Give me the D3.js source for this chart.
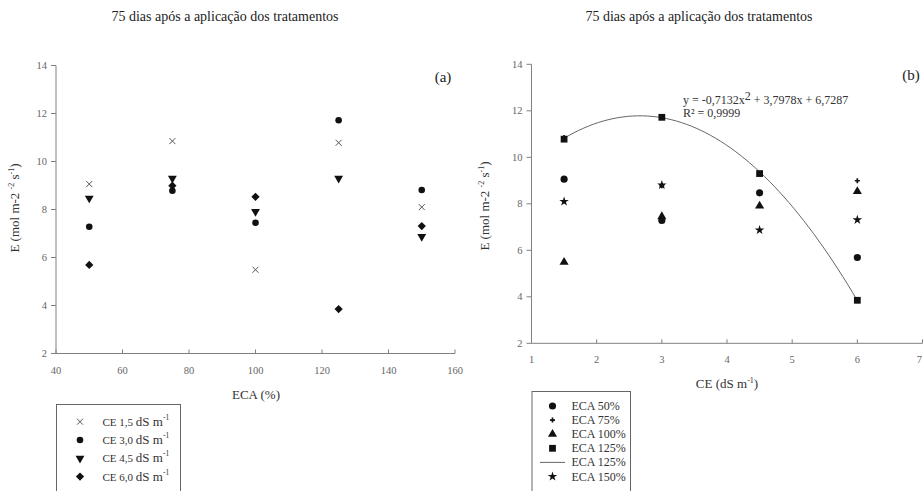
<!DOCTYPE html>
<html>
<head>
<meta charset="utf-8">
<script src="https://cdn.jsdelivr.net/npm/d3@7"></script>
<style>
  body { margin: 0; background: #fff; }
  svg { display: block; font-family: "Liberation Serif", "Times New Roman", serif; }
</style>
</head>
<body>
<svg id="chart" width="923" height="491"></svg>
<script>
// ---- Data ----
const titleText = "75 dias após a aplicação dos tratamentos";
const ecaLevels = [50, 75, 100, 125, 150];          // ECA (%)
const ceLevels = [1.5, 3.0, 4.5, 6.0];              // CE (dS m-1)
// E values per CE level (rows) across ECA levels (columns)
const ce15 = [9.06, 10.85, 5.49, 10.78, 8.10];
const ce30 = [7.28, 8.78, 7.45, 11.72, 8.81];
const ce45 = [8.47, 9.30, 7.91, 9.30, 6.87];
const ce60 = [5.69, 8.99, 8.53, 3.85, 7.31];
const ceSeriesNames = ["CE 1,5", "CE 3,0", "CE 4,5", "CE 6,0"];
const ecaSeriesNames = ["ECA 50%", "ECA 75%", "ECA 100%", "ECA 125%", "ECA 125%", "ECA 150%"];
const xTicksA = [40, 60, 80, 100, 120, 140, 160];
const xTicksB = [1, 2, 3, 4, 5, 6, 7];
const yTicks = [2, 4, 6, 8, 10, 12, 14];
// Quadratic fit for ECA 125% shown in panel (b)
const fitCoef = [-0.7132, 3.7978, 6.7287];
const fitRange = [1.5, 6.0];
const eqText = "y = -0,7132x";
const eqText2 = " + 3,7978x + 6,7287";
const r2Text = "R² = 0,9999";

const ceRows = [ce15, ce30, ce45, ce60];

// ---- Setup ----
const svg = d3.select("#chart");
const axisColor = "#808080";
const textColor = "#333";
const W = 923;

function sym(type, size) { return d3.symbol().type(type).size(size)(); }
const timesPath = "M-3,-3L3,3M-3,3L3,-3";
const symbolsA = [
  {path: timesPath, stroke: true},
  {path: sym(d3.symbolCircle, 34)},
  {path: sym(d3.symbolTriangle, 34), rot: 180},
  {path: sym(d3.symbolSquare, 34), rot: 45}
];
// symbols for ECA series (index matches ecaLevels)
const symbolsB = [
  {path: sym(d3.symbolCircle, 40)},
  {path: sym(d3.symbolCross, 14)},
  {path: sym(d3.symbolTriangle, 36)},
  {path: sym(d3.symbolSquare, 46)},
  {path: sym(d3.symbolStar, 28)}
];
// legend entries: data symbol index, or -1 for the fit line
const legendBMap = [0, 1, 2, 3, -1, 4];

function drawSym(g, s, x, y) {
  const p = g.append("path").attr("d", s.path)
    .attr("transform", `translate(${x},${y})` + (s.rot ? ` rotate(${s.rot})` : ""));
  if (s.stroke) p.attr("fill", "none").attr("stroke", "#555").attr("stroke-width", 1);
  else p.attr("fill", "#111");
  return p;
}

function drawAxes(x, y, xTicks, yLabelX, yLabelCenter) {
  const g = svg.append("g");
  const [x0, x1] = x.range();
  const [y0, y1] = y.range();
  g.append("line").attr("x1", x0).attr("x2", x1).attr("y1", y0).attr("y2", y0)
    .attr("stroke", axisColor);
  g.append("line").attr("x1", x0).attr("x2", x0).attr("y1", y0).attr("y2", y1)
    .attr("stroke", axisColor);
  yTicks.forEach(t => {
    g.append("line").attr("x1", x0 - 5).attr("x2", x0).attr("y1", y(t)).attr("y2", y(t))
      .attr("stroke", axisColor);
    g.append("text").attr("x", x0 - 9).attr("y", y(t) + 3.5).attr("text-anchor", "end")
      .attr("font-size", 10.5).attr("fill", "#666").text(t);
  });
  xTicks.forEach(t => {
    g.append("line").attr("x1", x(t)).attr("x2", x(t)).attr("y1", y0).attr("y2", y0 - 4)
      .attr("stroke", axisColor);
    const edge = x(t) > W - 5;
    g.append("text").attr("x", edge ? W - 1 : x(t)).attr("y", y0 + 20)
      .attr("text-anchor", edge ? "end" : "middle")
      .attr("font-size", 10.5).attr("fill", "#666").text(t);
  });
  // y title
  const yt = g.append("text")
    .attr("transform", `translate(${yLabelX},${yLabelCenter}) rotate(-90)`)
    .attr("text-anchor", "middle").attr("font-size", 13).attr("fill", textColor);
  yt.append("tspan").text("E (mol m-2 ");
  yt.append("tspan").attr("font-size", 8).attr("dy", -5).text("-2");
  yt.append("tspan").attr("dy", 5).text(" s");
  yt.append("tspan").attr("font-size", 8).attr("dy", -5).text("-1");
  yt.append("tspan").attr("dy", 5).text(")");
  return g;
}

// ---- Panel (a) ----
const xA = d3.scaleLinear().domain([40, 160]).range([56, 455]);
const yA = d3.scaleLinear().domain([2, 14]).range([353.5, 65.5]);
drawAxes(xA, yA, xTicksA, 19, 208);
svg.append("text").attr("x", 225).attr("y", 21).attr("text-anchor", "middle")
  .attr("font-size", 14).attr("fill", "#222").text(titleText);
svg.append("text").attr("x", 443).attr("y", 82).attr("text-anchor", "middle")
  .attr("font-size", 15).attr("fill", "#222").text("(a)");
svg.append("text").attr("x", 256).attr("y", 399).attr("text-anchor", "middle")
  .attr("font-size", 13).attr("fill", textColor).text("ECA (%)");

const gA = svg.append("g");
ceRows.forEach((row, i) => {
  row.forEach((v, j) => drawSym(gA, symbolsA[i], xA(ecaLevels[j]), yA(v)));
});

// legend (a)
const legA = svg.append("g");
legA.append("rect").attr("x", 56.5).attr("y", 404.5).attr("width", 124).attr("height", 100)
  .attr("fill", "#fff").attr("stroke", "#666");
ceSeriesNames.forEach((name, i) => {
  const yy = 421.7 + i * 18.3;
  drawSym(legA, symbolsA[i], 80, yy);
  const t = legA.append("text").attr("x", 102.5).attr("y", yy + 4)
    .attr("font-size", 11).attr("fill", textColor);
  t.append("tspan").text(name + " ");
  t.append("tspan").attr("font-size", 13).text("dS m");
  t.append("tspan").attr("font-size", 7.5).attr("dy", -6).text("-1");
});

// ---- Panel (b) ----
const xB = d3.scaleLinear().domain([1, 7]).range([531.5, 922.5]);
const yB = d3.scaleLinear().domain([2, 14]).range([343.3, 64.3]);
drawAxes(xB, yB, xTicksB, 489, 206);
svg.append("text").attr("x", 699).attr("y", 21).attr("text-anchor", "middle")
  .attr("font-size", 14).attr("fill", "#222").text(titleText);
svg.append("text").attr("x", 911).attr("y", 80).attr("text-anchor", "middle")
  .attr("font-size", 15).attr("fill", "#222").text("(b)");
const xtB = svg.append("text").attr("x", 727).attr("y", 388).attr("text-anchor", "middle")
  .attr("font-size", 13).attr("fill", textColor);
xtB.append("tspan").text("CE (dS m");
xtB.append("tspan").attr("font-size", 8).attr("dy", -5).text("-1");
xtB.append("tspan").attr("dy", 5).text(")");

// fit curve
const fitPts = d3.range(0, 61).map(k => {
  const xv = fitRange[0] + (fitRange[1] - fitRange[0]) * k / 60;
  return [xv, fitCoef[0] * xv * xv + fitCoef[1] * xv + fitCoef[2]];
});
svg.append("path").datum(fitPts)
  .attr("d", d3.line().x(d => xB(d[0])).y(d => yB(d[1])))
  .attr("fill", "none").attr("stroke", "#666").attr("stroke-width", 1);

// points in (b): series by ECA level, x = CE level
const gB = svg.append("g");
const drawOrder = [1, 0, 2, 4, 3];
drawOrder.forEach(j => {
  ceRows.forEach((row, i) => drawSym(gB, symbolsB[j], xB(ceLevels[i]), yB(row[j])));
});

// equation
const eq = svg.append("text").attr("x", 683).attr("y", 104)
  .attr("font-size", 12).attr("fill", textColor);
eq.append("tspan").text(eqText);
eq.append("tspan").attr("font-size", 12).attr("dy", -4).text("2");
eq.append("tspan").attr("dy", 4).text(eqText2);
svg.append("text").attr("x", 683).attr("y", 117)
  .attr("font-size", 12).attr("fill", textColor).text(r2Text);

// legend (b)
const legB = svg.append("g");
legB.append("rect").attr("x", 532).attr("y", 391.5).attr("width", 98.5).attr("height", 110)
  .attr("fill", "#fff").attr("stroke", "#666");
ecaSeriesNames.forEach((name, k) => {
  const yy = 406 + k * 14.1;
  const si = legendBMap[k];
  if (si >= 0) drawSym(legB, symbolsB[si], 552.5, yy);
  else legB.append("line").attr("x1", 540).attr("x2", 565).attr("y1", yy).attr("y2", yy)
    .attr("stroke", "#666");
  legB.append("text").attr("x", 571.5).attr("y", yy + 4)
    .attr("font-size", 12).attr("fill", textColor).text(name);
});
</script>
</body>
</html>
